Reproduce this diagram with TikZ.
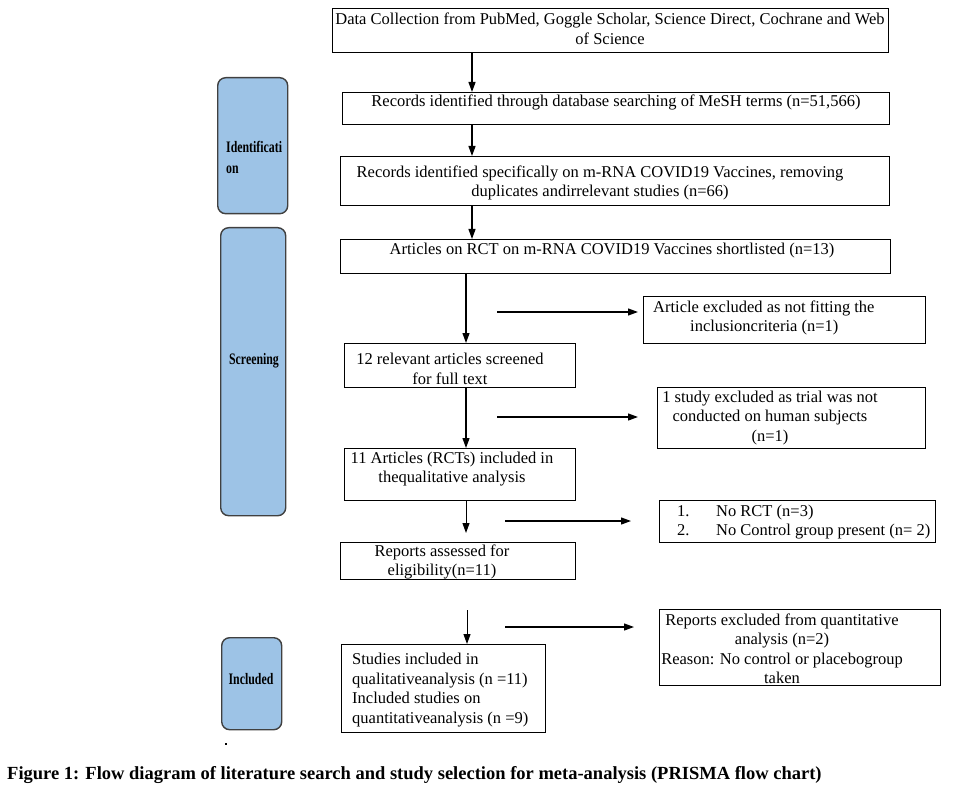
\documentclass[tikz,border=0pt]{standalone}
\usepackage{fontspec}
\setmainfont{Liberation Serif}
\newfontfamily\labelfont[FakeStretch=0.74]{Liberation Serif}
\usetikzlibrary{arrows.meta}
\definecolor{sideblue}{HTML}{9DC3E6}
\begin{document}
\begin{tikzpicture}[x=1pt,y=-1pt,
  box/.style={draw=black, line width=1.1pt, inner sep=0pt, anchor=north west},
  txt/.style={font=\fontsize{16.5}{19.5}\selectfont, align=center, inner sep=0pt},
  ltxt/.style={font=\fontsize{16.5}{19.5}\selectfont, align=left, inner sep=0pt, anchor=west},
  side/.style={draw=black!75, fill=sideblue, line width=1.4pt, rounded corners=8pt, inner sep=0pt, anchor=north west},
  stxt/.style={font=\labelfont\bfseries\fontsize{16}{21}\selectfont, inner sep=0pt},
  arr/.style={-{Triangle[length=10pt,width=7pt]}, line width=1.2pt}]
\useasboundingbox (0,0) rectangle (961,794);

% main boxes
\node[box, minimum width=556pt, minimum height=44pt] (b1) at (332,8) {};
\node[txt] (t1) at (610,29) {Data Collection from PubMed, Goggle Scholar, Science Direct, Cochrane and Web\\of Science};
\node[box, minimum width=547pt, minimum height=32pt] (b2) at (342,92) {};
\node[txt] (t2) at (616,102) {Records identified through database searching of MeSH terms (n=51,566)};
\node[box, minimum width=549pt, minimum height=49pt] (b3) at (340,156) {};
\node[txt] (t3) at (600,183) {Records identified specifically on m-RNA COVID19 Vaccines, removing\\duplicates andirrelevant studies (n=66)};
\node[box, minimum width=550pt, minimum height=34pt] (b4) at (340,239) {};
\node[txt] (t4) at (612,251) {Articles on RCT on m-RNA COVID19 Vaccines shortlisted (n=13)};
\node[box, minimum width=231pt, minimum height=44pt] (b5) at (344,343) {};
\node[txt] (t5) at (450,369) {12 relevant articles screened\\for full text};
\node[box, minimum width=231pt, minimum height=52pt] (b6) at (344,448) {};
\node[txt] (t6) at (452,469) {11 Articles (RCTs) included in\\thequalitative analysis};
\node[box, minimum width=235pt, minimum height=37pt] (b7) at (340,542) {};
\node[txt] (t7) at (442,562) {Reports assessed for\\eligibility(n=11)};
\node[box, minimum width=204pt, minimum height=88pt] (b8) at (341,644) {};
\node[ltxt] (t8) at (352,690) {Studies included in\\qualitativeanalysis (n =11)\\Included studies on\\quantitativeanalysis (n =9)};

% exclusion boxes
\node[box, minimum width=282pt, minimum height=47pt] (e1) at (643,296) {};
\node[ltxt] (te1) at (653,318) {Article excluded as not fitting the\\\hspace*{37pt}inclusioncriteria (n=1)};
\node[box, minimum width=268pt, minimum height=61pt] (e2) at (657,387) {};
\node[txt] (te2) at (770,418) {1 study excluded as trial was not\\conducted on human subjects\\(n=1)};
\node[box, minimum width=276pt, minimum height=42pt] (e3) at (659,500) {};
\node[ltxt] (te3) at (677,522) {\makebox[39pt][l]{1.}No RCT (n=3)\\\makebox[39pt][l]{2.}No Control group present (n= 2)};
\node[box, minimum width=281pt, minimum height=76pt] (e4) at (659,609) {};
\node[txt] (te4) at (782,649) {Reports excluded from quantitative\\analysis (n=2)\\Reason: No control or placebogroup\\taken};

% side labels
\node[side, minimum width=70pt, minimum height=136pt] (s1) at (217,77) {};
\node[stxt, anchor=west, align=left] (ts1) at (226,157) {Identificati\\on};
\node[side, minimum width=65pt, minimum height=288pt] (s2) at (220,227) {};
\node[stxt] (ts2) at (254,361) {Screening};
\node[side, minimum width=60pt, minimum height=92pt] (s3) at (221,637) {};
\node[stxt] (ts3) at (251,679) {Included};

% arrow guide coordinates
\coordinate (xa) at (472,0);
\coordinate (xb) at (466,0);
\coordinate (xc) at (467,0);
\coordinate (end6) at (466,533);
\coordinate (start7) at (467,610);
\coordinate (h1s) at (497,312); \coordinate (h1e) at (638,312);
\coordinate (h2s) at (497,417); \coordinate (h2e) at (638,417);
\coordinate (h3s) at (505,521); \coordinate (h3e) at (631,521);
\coordinate (h4s) at (505,627); \coordinate (h4e) at (634,627);

% vertical arrows
\draw[arr] (xa |- b1.south) -- (xa |- b2.north);
\draw[arr] (xa |- b2.south) -- (xa |- b3.north);
\draw[arr] (xa |- b3.south) -- (xa |- b4.north);
\draw[arr] (xb |- b4.south) -- (xb |- b5.north);
\draw[arr] (xb |- b5.south) -- (xb |- b6.north);
\draw[arr, line width=1pt] (xb |- b6.south) -- (end6);
\draw[arr, line width=1pt] (start7) -- (xc |- b8.north);

% side arrows
\draw[arr] (h1s) -- (h1e);
\draw[arr] (h2s) -- (h2e);
\draw[arr] (h3s) -- (h3e);
\draw[arr] (h4s) -- (h4e);

% dot and caption
\node[fill=black, minimum size=2.5pt, inner sep=0pt] (dot) at (226,744) {};
\node[anchor=west, inner sep=0pt, font=\bfseries\fontsize{18.5}{21}\selectfont] (cap) at (7,775) {Figure 1: Flow diagram of literature search and study selection for meta-analysis (PRISMA flow chart)};
\end{tikzpicture}
\end{document}
